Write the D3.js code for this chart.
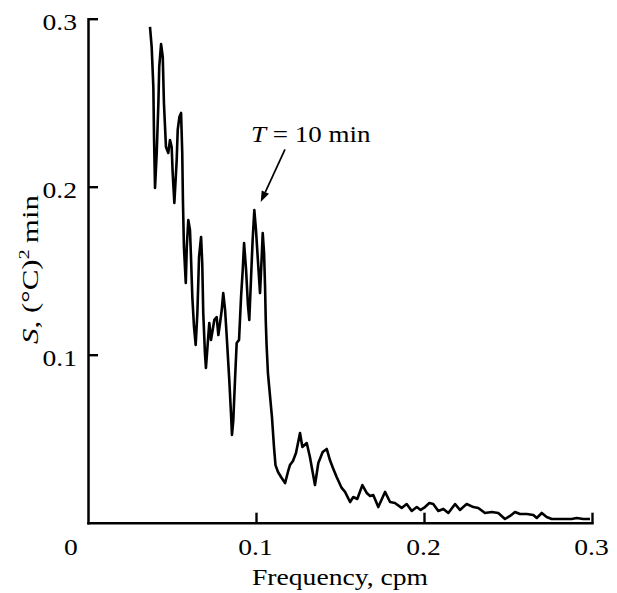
<!DOCTYPE html>
<html>
<head>
<meta charset="utf-8">
<script src="https://cdn.jsdelivr.net/npm/d3@7/dist/d3.min.js"></script>
<style>
  html, body { margin: 0; padding: 0; background: #fff; }
  svg { display: block; }
  text { font-family: "Liberation Serif", "Times New Roman", serif; fill: #000; }
</style>
</head>
<body>
<svg id="chart" width="617" height="593"></svg>
<script>
// Temperature spectrum S(f), (°C)^2·min, against frequency in cycles per minute
const freq = [
  0.0369, 0.0379, 0.0389, 0.0393, 0.0399, 0.0409, 0.0419, 0.0424, 0.0435, 0.0445,
  0.0452, 0.0464, 0.0478, 0.0488, 0.0498, 0.0504, 0.0514, 0.0528, 0.0534, 0.0544,
  0.0554, 0.0561, 0.0565, 0.0571, 0.0582, 0.0588, 0.0597, 0.0607, 0.0613, 0.0621,
  0.0631, 0.0641, 0.0651, 0.0661, 0.0673, 0.0680, 0.0686, 0.0696, 0.0702, 0.0713,
  0.0722, 0.0732, 0.0742, 0.0752, 0.0766, 0.0776, 0.0786, 0.0796, 0.0805, 0.0816,
  0.0826, 0.0841, 0.0851, 0.0857, 0.0865, 0.0875, 0.0885, 0.0899, 0.0911, 0.0921,
  0.0929, 0.0941, 0.0952, 0.0960, 0.0970, 0.0980, 0.0990, 0.1000, 0.1010, 0.1024,
  0.1034, 0.1040, 0.1048, 0.1054, 0.1058, 0.1063, 0.1071, 0.1083, 0.1095, 0.1107,
  0.1116, 0.1131, 0.1149, 0.1173, 0.1190, 0.1202, 0.1220, 0.1238, 0.1262, 0.1276,
  0.1302, 0.1321, 0.1351, 0.1371, 0.1397, 0.1421, 0.1440, 0.1458, 0.1480, 0.1510,
  0.1530, 0.1560, 0.1579, 0.1603, 0.1633, 0.1659, 0.1679, 0.1698, 0.1728, 0.1768,
  0.1798, 0.1827, 0.1867, 0.1897, 0.1927, 0.1957, 0.1980, 0.2006, 0.2032, 0.2055,
  0.2085, 0.2115, 0.2145, 0.2185, 0.2214, 0.2254, 0.2294, 0.2323, 0.2363, 0.2403,
  0.2442, 0.2482, 0.2512, 0.2542, 0.2571, 0.2611, 0.2651, 0.2671, 0.2701, 0.2730,
  0.2760, 0.2810, 0.2849, 0.2879, 0.2909, 0.2948, 0.2988
];
const spectrum = [
  0.2951, 0.2832, 0.2593, 0.2296, 0.1992, 0.2201, 0.2498, 0.2713, 0.2849, 0.2772,
  0.2498, 0.2236, 0.2201, 0.2278, 0.2236, 0.2082, 0.1903, 0.2159, 0.2338, 0.2415,
  0.2439, 0.2201, 0.1921, 0.1641, 0.1427, 0.1641, 0.1802, 0.1742, 0.1582, 0.1343,
  0.1165, 0.1058, 0.1248, 0.1582, 0.1701, 0.1546, 0.1248, 0.1010, 0.0921, 0.1070,
  0.1189, 0.1088, 0.1147, 0.1207, 0.1224, 0.1117, 0.1189, 0.1266, 0.1367, 0.1266,
  0.1105, 0.0849, 0.0653, 0.0522, 0.0611, 0.0849, 0.1070, 0.1088, 0.1343, 0.1504,
  0.1665, 0.1504, 0.1296, 0.1207, 0.1445, 0.1683, 0.1861, 0.1742, 0.1582, 0.1367,
  0.1582, 0.1724, 0.1605, 0.1403, 0.1207, 0.1058, 0.0891, 0.0760, 0.0629, 0.0451,
  0.0343, 0.0302, 0.0272, 0.0236, 0.0302, 0.0343, 0.0367, 0.0415, 0.0534, 0.0451,
  0.0474, 0.0391, 0.0224, 0.0355, 0.0421, 0.0439, 0.0373, 0.0326, 0.0272, 0.0207,
  0.0183, 0.0123, 0.0153, 0.0141, 0.0224, 0.0177, 0.0159, 0.0165, 0.0093, 0.0183,
  0.0123, 0.0117, 0.0088, 0.0111, 0.0070, 0.0093, 0.0076, 0.0093, 0.0117, 0.0111,
  0.0070, 0.0082, 0.0058, 0.0111, 0.0076, 0.0111, 0.0093, 0.0088, 0.0058, 0.0064,
  0.0058, 0.0022, 0.0040, 0.0064, 0.0052, 0.0052, 0.0046, 0.0028, 0.0058, 0.0034,
  0.0022, 0.0022, 0.0022, 0.0022, 0.0028, 0.0022, 0.0022
];
const xTicks = [0.1, 0.2, 0.3];
const yTicks = [0.1, 0.2, 0.3];
const originLabel = "0";
const xTitle = "Frequency, cpm";
const peakFreq = 0.1;          // T = 10 min
const peakLabelNumber = "10";

const svg = d3.select("#chart");
const FONT = 23;
const STRETCH = 1.2;           // wide serif lettering

const x = d3.scaleLinear().domain([0, 0.3]).range([88, 592]);
const y = d3.scaleLinear().domain([0, 0.3]).range([522.7, 18.7]);

// x axis, ticks pointing into the plot
const gx = svg.append("g")
  .attr("transform", `translate(0,${y(0)})`)
  .call(d3.axisBottom(x).tickValues(xTicks).tickSize(-10).tickSizeOuter(0).tickFormat(d3.format(".1f")));
// y axis, ticks pointing into the plot
const gy = svg.append("g")
  .attr("transform", `translate(${x(0)},0)`)
  .call(d3.axisLeft(y).tickValues(yTicks).tickSize(-10).tickSizeOuter(0).tickFormat(d3.format(".1f")));

[gx, gy].forEach(g => {
  g.attr("font-family", null).attr("font-size", null);
  g.select(".domain").attr("stroke", "#000").attr("stroke-width", 2.5).attr("stroke-linecap", "square");
  g.selectAll(".tick line").attr("stroke", "#000").attr("stroke-width", 2.4);
  g.selectAll(".tick text").style("font-size", FONT + "px").attr("x", 0).attr("y", 0).attr("dy", 0);
});
gx.selectAll(".tick text")
  .attr("text-anchor", "middle")
  .attr("transform", `translate(-1,32.5) scale(${STRETCH},1)`);
gy.selectAll(".tick text")
  .attr("text-anchor", "end")
  .attr("transform", `translate(-11,10.8) scale(${STRETCH},1)`);

// shared origin label
svg.append("text")
  .attr("text-anchor", "middle")
  .attr("transform", `translate(71,555.2) scale(${STRETCH},1)`)
  .style("font-size", FONT + "px")
  .text(originLabel);

// spectrum curve
const line = d3.line().x(d => x(d[0])).y(d => y(d[1]));
svg.append("path")
  .datum(d3.zip(freq, spectrum))
  .attr("d", line)
  .attr("fill", "none")
  .attr("stroke", "#000")
  .attr("stroke-width", 2.6)
  .attr("stroke-linejoin", "round");

// axis titles
svg.append("text")
  .attr("text-anchor", "middle")
  .attr("transform", `translate(340,584.5) scale(${STRETCH},1)`)
  .style("font-size", FONT + "px")
  .text(xTitle);

const yl = svg.append("text")
  .attr("text-anchor", "middle")
  .attr("transform", `translate(38,269.5) rotate(-90) scale(1.32,1)`)
  .style("font-size", "23.5px");
yl.append("tspan").attr("font-style", "italic").text("S");
yl.append("tspan").text(", (°C)");
yl.append("tspan").attr("dy", -9).style("font-size", "15px").text("2");
yl.append("tspan").attr("dy", 9).text("\u2009min");

// annotation of the 10-minute peak
const peakVal = d3.max(spectrum.filter((v, i) => Math.abs(freq[i] - peakFreq) < 0.003));
const tip = [x(peakFreq) + 4.7, y(peakVal) - 8];
const tail = [285, 149.3];
const ang = Math.atan2(tip[1] - tail[1], tip[0] - tail[0]);
const headLen = 11, headW = 4;
const base = [tip[0] - headLen * Math.cos(ang), tip[1] - headLen * Math.sin(ang)];
svg.append("line")
  .attr("x1", tail[0]).attr("y1", tail[1])
  .attr("x2", base[0]).attr("y2", base[1])
  .attr("stroke", "#000").attr("stroke-width", 1.7);
svg.append("path")
  .attr("d", d3.line()([
    tip,
    [base[0] + headW * Math.sin(ang), base[1] - headW * Math.cos(ang)],
    [base[0] - headW * Math.sin(ang), base[1] + headW * Math.cos(ang)]
  ]) + "Z")
  .attr("fill", "#000");

const ann = svg.append("text")
  .attr("transform", `translate(251,141.7) scale(1.15,1)`)
  .style("font-size", "23.5px");
ann.append("tspan").attr("font-style", "italic").text("T");
ann.append("tspan").text(" = " + peakLabelNumber + " min");
</script>
</body>
</html>
